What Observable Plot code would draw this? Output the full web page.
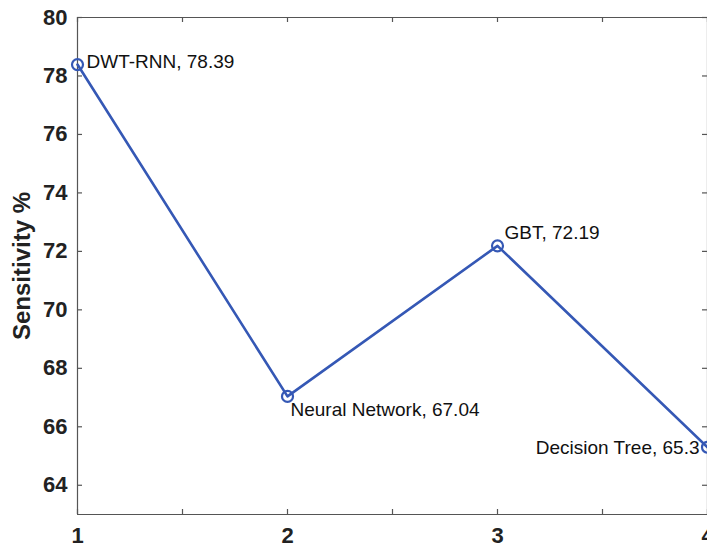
<!DOCTYPE html>
<html>
<head>
<meta charset="utf-8">
<script src="https://cdn.jsdelivr.net/npm/d3@7"></script>
<script src="https://cdn.jsdelivr.net/npm/@observablehq/plot@0.6"></script>
<style>
  html, body { margin: 0; padding: 0; background: #fff; }
  #chart { width: 707px; height: 548px; overflow: hidden; }
</style>
</head>
<body>
<div id="chart"></div>
<script>
const xPos = [1, 2, 3, 4];
const models = ["DWT-RNN", "Neural Network", "GBT", "Decision Tree"];
const sensitivity = [78.39, 67.04, 72.19, 65.3];
const yTicks = [64, 66, 68, 70, 72, 74, 76, 78, 80];
const xTicks = [1, 2, 3, 4];
const xMinorTicks = [1.5, 2.5, 3.5];

const data = xPos.map((x, i) => ({x, y: sensitivity[i], label: `${models[i]}, ${sensitivity[i]}`}));
const labelStyle = [
  {textAnchor: "start", dx: 9, dy: -3},
  {textAnchor: "start", dx: 3, dy: 14},
  {textAnchor: "start", dx: 7, dy: -13},
  {textAnchor: "end", dx: -8, dy: 1}
];

const blue = "#3558b5";
const frame = "#555";
const tx = 5 / 210;   // inward tick length in x units
const ty = 5 / 29.2;  // inward tick length in y units

const plot = Plot.plot({
  width: 707,
  height: 548,
  marginLeft: 77,
  marginRight: 0,
  marginTop: 17,
  marginBottom: 34,
  style: {fontFamily: "Liberation Sans, Arial, sans-serif", background: "#fff"},
  x: {domain: [1, 4], label: null},
  y: {domain: [63, 80], label: null},
  marks: [
    // frame
    Plot.ruleX([1, 4], {y1: 63, y2: 80, stroke: frame, strokeWidth: 1.2}),
    Plot.ruleY([63, 80], {x1: 1, x2: 4, stroke: frame, strokeWidth: 1.2}),
    // inward ticks
    Plot.ruleY(yTicks, {x1: 1, x2: 1 + tx, stroke: frame, strokeWidth: 1.2}),
    Plot.ruleY(yTicks, {x1: 4 - tx, x2: 4, stroke: frame, strokeWidth: 1.2}),
    Plot.ruleX(xMinorTicks.concat(xTicks), {y1: 63, y2: 63 + ty, stroke: frame, strokeWidth: 1.2}),
    Plot.ruleX(xMinorTicks.concat(xTicks), {y1: 80 - ty, y2: 80, stroke: frame, strokeWidth: 1.2}),
    // axes labels
    Plot.axisY({ticks: yTicks, tickSize: 0, tickPadding: 10, fontSize: 22, fontWeight: "bold", fill: "#222", label: null, tickFormat: d => String(d)}),
    Plot.axisX({ticks: xTicks, tickSize: 0, tickPadding: 13, fontSize: 22, fontWeight: "bold", fill: "#222", label: null, tickFormat: d => String(d)}),
    Plot.text(["Sensitivity %"], {
      frameAnchor: "left", textAnchor: "middle", rotate: -90, dx: -55, fontSize: 24, fontWeight: "bold", fill: "#222",
      letterSpacing: "1.3px"
    }),
    // data
    Plot.line(data, {x: "x", y: "y", stroke: blue, strokeWidth: 2.6}),
    Plot.dot(data, {x: "x", y: "y", r: 5.5, stroke: blue, strokeWidth: 2.2, fill: "none"}),
    ...data.map((d, i) => Plot.text([d], {
      x: "x", y: "y", text: "label", fontSize: 19, fill: "#111", ...labelStyle[i]
    }))
  ]
});

document.getElementById("chart").appendChild(plot);
</script>
</body>
</html>
